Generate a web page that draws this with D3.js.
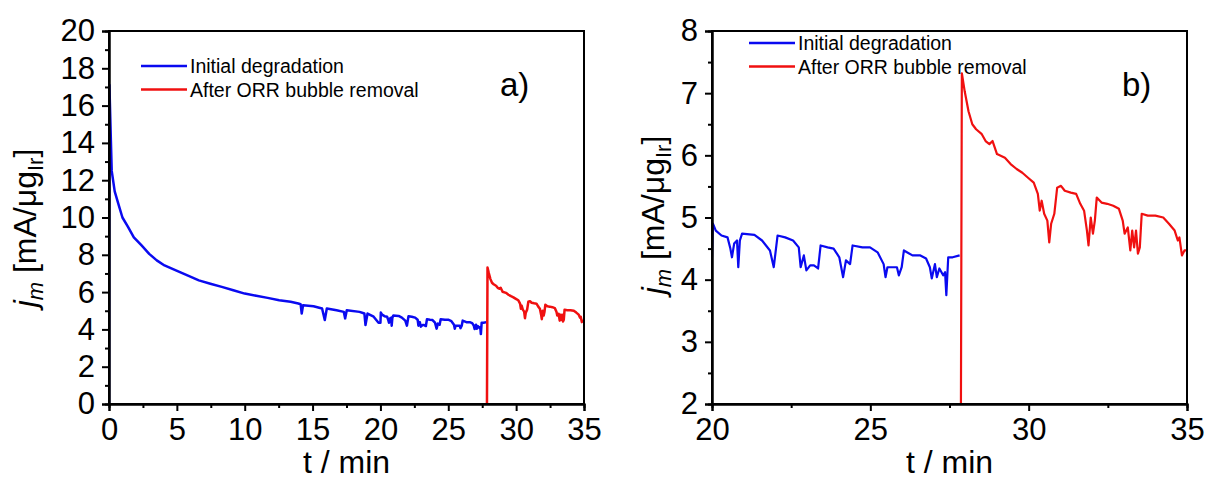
<!DOCTYPE html>
<html><head><meta charset="utf-8">
<script src="https://cdn.jsdelivr.net/npm/d3@7"></script>
<style>body{margin:0;background:#fff}svg{display:block;font-family:"Liberation Sans",Arial,sans-serif}</style>
</head><body><svg id="c" width="1205" height="479"></svg>
<script>
// ---- data ----
const blueT=[0,0.03,0.14,0.2,0.42,0.7,0.99,1.4,1.83,2.4,2.96,3.52,4.09,4.93,5.78,6.62,7.47,8.31,9.16,10.0,10.85,11.69,12.54,13.38,13.95,14.12,14.2,14.3,15.07,15.7,15.9,16.05,16.77,17.3,17.4,17.52,18.46,18.82,18.9,19.05,19.5,19.86,20.0,20.03,20.12,20.3,20.49,20.58,20.63,20.7,20.79,20.83,20.88,20.95,21.34,21.58,21.83,21.95,22.07,22.31,22.56,22.74,22.8,22.9,22.98,23.1,23.22,23.35,23.43,23.65,23.84,24.02,24.14,24.23,24.36,24.44,24.75,24.99,25.23,25.42,25.48,25.54,25.84,25.9,25.99,26.06,26.33,26.58,26.76,26.88,26.94,27.04,27.1,27.18,27.3,27.36,27.4,27.46,27.6,27.82];
const blueJ=[0,17.1,14.1,12.5,11.4,10.7,10.0,9.5,8.94,8.5,8.05,7.7,7.43,7.16,6.9,6.63,6.45,6.28,6.1,5.92,5.8,5.69,5.56,5.48,5.39,5.35,4.85,5.3,5.24,5.12,4.5,5.12,5.03,4.94,4.59,5.03,4.94,4.85,4.23,4.85,4.68,4.36,4.36,4.9,4.79,4.71,4.68,4.5,4.36,4.58,4.63,4.2,4.63,4.74,4.72,4.63,4.47,4.2,4.71,4.68,4.63,4.52,4.2,4.39,4.15,4.23,4.23,4.18,4.55,4.52,4.5,4.36,4.04,4.31,4.25,4.55,4.52,4.52,4.44,4.25,4.04,4.2,4.2,4.07,4.2,4.47,4.39,4.39,4.34,4.2,4.02,4.25,4.04,4.18,4.07,4.12,3.75,4.36,4.36,4.39];
const redT=[27.85,27.89,27.98,28.1,28.22,28.34,28.52,28.64,28.76,28.86,29.0,29.25,29.43,29.62,29.8,29.98,30.16,30.29,30.35,30.41,30.49,30.59,30.65,30.71,30.81,30.9,31.02,31.14,31.33,31.5,31.63,31.75,31.84,31.89,31.96,32.03,32.09,32.15,32.3,32.48,32.67,32.85,32.97,33.03,33.13,33.21,33.27,33.33,33.39,33.45,33.51,33.57,33.76,34.0,34.25,34.43,34.61,34.71,34.76,34.84,34.92,35.0];
const redJ=[0,7.32,7.03,6.71,6.5,6.42,6.34,6.23,6.18,6.23,6.02,5.96,5.86,5.78,5.72,5.64,5.56,5.38,5.11,5.27,5.06,4.95,4.6,4.9,5.06,5.48,5.51,5.43,5.4,5.38,5.22,5.11,4.79,4.55,5.0,4.74,4.95,5.32,5.24,5.22,5.19,5.14,4.95,4.74,4.84,4.47,4.79,4.52,4.79,4.42,4.52,5.06,5.03,5.03,5.0,4.9,4.79,4.63,4.68,4.39,4.47,4.47];
const seriesNames=["Initial degradation","After ORR bubble removal"];
const seriesColors=["#0a0af0","#f01010"];
const panelLabels=["a)","b)"];
const xDomainA=[0,35], yDomainA=[0,20], xDomainB=[20,35], yDomainB=[2,8];
const xTicksA=[0,5,10,15,20,25,30,35], xMinorA=[2.5,7.5,12.5,17.5,22.5,27.5,32.5];
const yTicksA=[0,2,4,6,8,10,12,14,16,18,20], yMinorA=[1,3,5,7,9,11,13,15,17,19];
const xTicksB=[20,25,30,35], xMinorB=[22.5,27.5,32.5];
const yTicksB=[2,3,4,5,6,7,8], yMinorB=[2.5,3.5,4.5,5.5,6.5,7.5];

const FONT='"Liberation Sans", Arial, sans-serif';
const svg=d3.select("#c");
const blue=blueT.map((t,i)=>[t,blueJ[i]]);
const red=redT.map((t,i)=>[t,redJ[i]]);

function panel(id,x0,x1,y0,y1,xd,yd,xt,xm,yt,ym,leg,lab,lw,ytPos){
  const x=d3.scaleLinear().domain(xd).range([x0,x1]);
  const y=d3.scaleLinear().domain(yd).range([y0,y1]);
  const g=svg.append("g");
  g.append("clipPath").attr("id","clip"+id).append("rect")
    .attr("x",x0).attr("y",y1).attr("width",x1-x0).attr("height",y0-y1);
  const line=d3.line().x(d=>x(d[0])).y(d=>y(d[1]));
  const lg=g.append("g").attr("clip-path","url(#clip"+id+")");
  lg.append("path").datum(blue).attr("d",line).attr("fill","none").attr("stroke",seriesColors[0]).attr("stroke-width",lw).attr("stroke-linejoin","round");
  lg.append("path").datum(red).attr("d",line).attr("fill","none").attr("stroke",seriesColors[1]).attr("stroke-width",lw).attr("stroke-linejoin","round");
  // frame
  g.append("rect").attr("x",x0).attr("y",y1).attr("width",x1-x0).attr("height",y0-y1)
    .attr("fill","none").attr("stroke","#000").attr("stroke-width",2);
  // axes
  const ax=g.append("g").attr("transform",`translate(0,${y0})`)
    .call(d3.axisBottom(x).tickValues(xt).tickSize(7).tickPadding(7).tickFormat(d3.format("d")));
  g.append("g").attr("transform",`translate(0,${y0})`)
    .call(d3.axisBottom(x).tickValues(xm).tickSize(4).tickFormat(""));
  const ay=g.append("g").attr("transform",`translate(${x0},0)`)
    .call(d3.axisLeft(y).tickValues(yt).tickSize(7).tickPadding(7).tickFormat(d3.format("d")));
  g.append("g").attr("transform",`translate(${x0},0)`)
    .call(d3.axisLeft(y).tickValues(ym).tickSize(4).tickFormat(""));
  [ax,ay].forEach(a=>a.attr("font-family",FONT).attr("font-size",31).selectAll("text").attr("fill","#000"));
  g.selectAll(".domain").attr("stroke-width",2);
  g.selectAll(".tick line").attr("stroke-width",2);
  // x title
  g.append("text").attr("transform",`translate(${(x0+x1)/2},473)`)
    .attr("text-anchor","middle").style("font-size","32px").text("t / min");
  // y title
  const yt2=g.append("text").attr("transform",`translate(${ytPos[0]},${ytPos[1]}) rotate(-90)`)
    .attr("text-anchor","middle").style("font-size","32px");
  yt2.append("tspan").style("font-style","italic").text("j");
  yt2.append("tspan").style("font-style","italic").style("font-size","22px").attr("dy",7).text("m");
  yt2.append("tspan").attr("dy",-7).text(" [mA/μg");
  yt2.append("tspan").style("font-size","22px").attr("dy",7).text("Ir");
  yt2.append("tspan").attr("dy",-7).text("]");
  // legend
  seriesNames.forEach((n,i)=>{
    const ly=leg[1]+i*23.5;
    g.append("line").attr("x1",leg[0]).attr("x2",leg[0]+46).attr("y1",ly).attr("y2",ly)
      .attr("stroke",seriesColors[i]).attr("stroke-width",2.5);
    g.append("text").attr("transform",`translate(${leg[0]+49},${ly+7})`)
      .style("font-size","19.5px").text(n);
  });
  g.append("text").attr("transform",`translate(${lab[0]},${lab[1]})`)
    .style("font-size","33px").text(panelLabels[id]);
}
panel(0,109,584,404,31,xDomainA,yDomainA,xTicksA,xMinorA,yTicksA,yMinorA,[141,66],[500,96],2.5,[36,228]);
panel(1,712,1187,404,31,xDomainB,yDomainB,xTicksB,xMinorB,yTicksB,yMinorB,[749,43],[1122,96],2.2,[664,215]);
</script></body></html>
